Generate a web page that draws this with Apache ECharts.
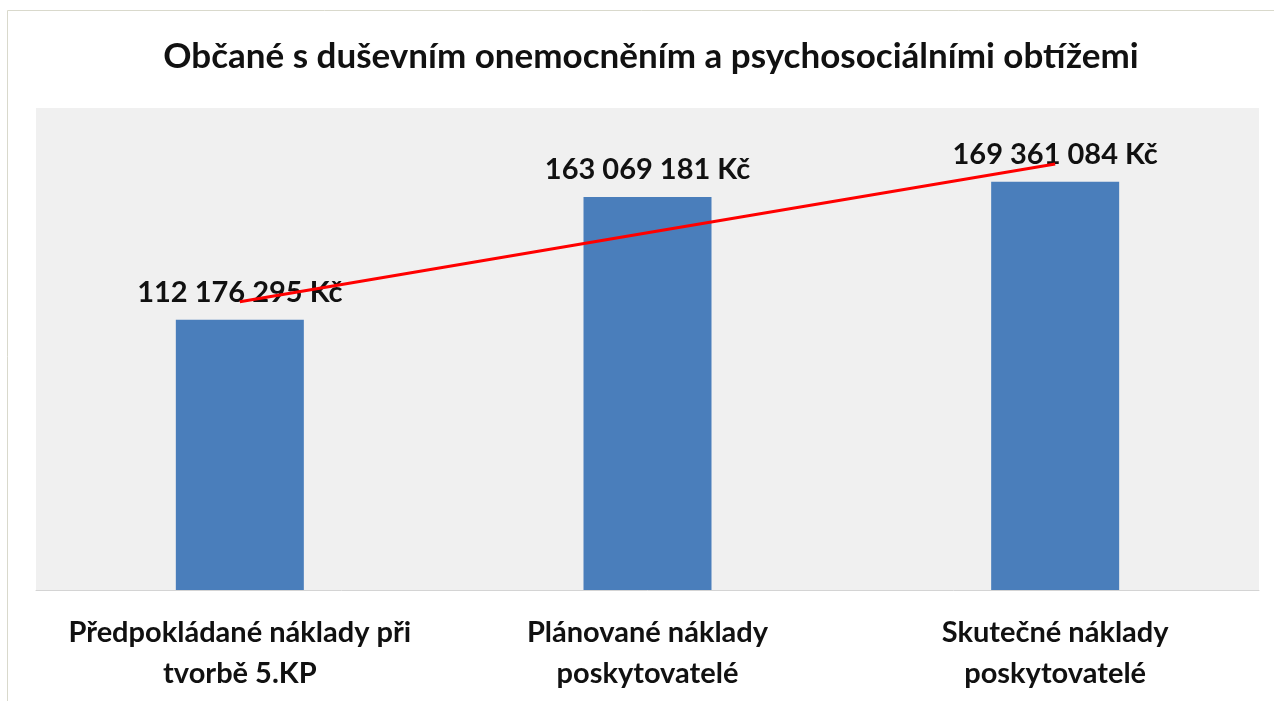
<!DOCTYPE html>
<html>
<head>
<meta charset="utf-8">
<script src="https://cdn.jsdelivr.net/npm/echarts@6/dist/echarts.min.js"></script>
<style>
  html, body { margin: 0; padding: 0; background: #fff; }
  #chart { width: 1274px; height: 701px; }
</style>
</head>
<body>
<div id="chart"></div>
<script>
// data
var categories = [
  'Předpokládané náklady při\ntvorbě 5.KP',
  'Plánované náklady\nposkytovatelé',
  'Skutečné náklady\nposkytovatelé'
]
var costs = [112176295, 163069181, 169361084]
// linear trend line (red)
var trend = [119600000, 148200000, 176800000]

var chart = echarts.init(document.getElementById('chart'))

function fmtKc(v) {
  return String(v).replace(/\B(?=(\d{3})+(?!\d))/g, ' ') + ' Kč'
}

chart.setOption({
  animation: false,
  textStyle: { fontFamily: 'Lato' },
  title: {
    text: 'Občané s duševním onemocněním a psychosociálními obtížemi',
    left: 646,
    textAlign: 'center',
    top: 34,
    textStyle: { fontSize: 35, fontWeight: 'bold', color: '#111', fontFamily: 'Lato' }
  },
  graphic: [{
    type: 'rect',
    shape: { x: 7.5, y: 10.5, width: 1300, height: 800 },
    style: { fill: 'none', stroke: '#d9d9cc', lineWidth: 1 },
    silent: true
  }],
  grid: {
    left: 36,
    right: 15,
    top: 108,
    bottom: 111,
    show: true,
    backgroundColor: '#f0f0f0',
    borderWidth: 0
  },
  xAxis: {
    type: 'category',
    data: categories,
    axisLine: { lineStyle: { color: '#d4d4d4', width: 1 } },
    axisTick: { show: false },
    axisLabel: {
      color: '#111',
      fontSize: 29,
      fontWeight: 'bold',
      lineHeight: 41,
      margin: 22,
      interval: 0
    }
  },
  yAxis: {
    type: 'value',
    min: 0,
    max: 200000000,
    show: false,
    splitLine: { show: false }
  },
  series: [{
    type: 'bar',
    data: costs,
    barWidth: 128,
    itemStyle: { color: '#4a7ebb' },
    label: {
      show: true,
      position: 'top',
      distance: 13,
      formatter: function (p) { return fmtKc(p.value) },
      color: '#111',
      fontSize: 29,
      fontWeight: 'bold'
    }
  }, {
    type: 'line',
    data: trend,
    symbol: 'none',
    lineStyle: { color: '#ff0000', width: 3 },
    z: 5
  }]
})
</script>
</body>
</html>
